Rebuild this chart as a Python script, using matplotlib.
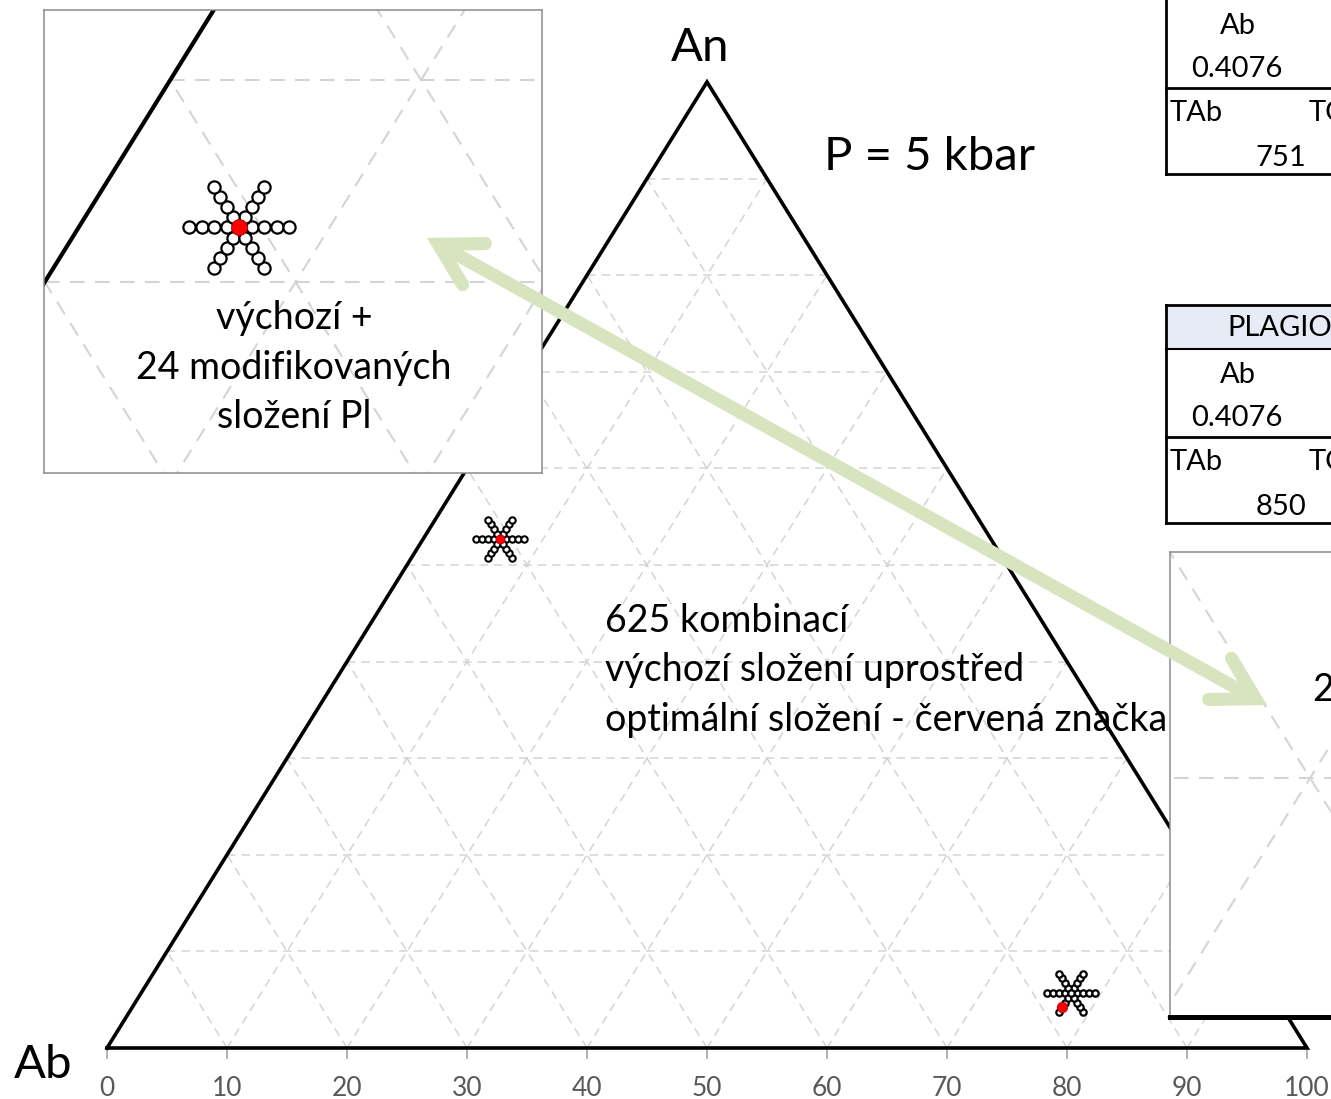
import numpy as np
import matplotlib.pyplot as plt

plt.rcParams['font.family'] = ['Lato', 'DejaVu Sans']

W, H = 1331, 1099

# výchozí složení plagioklasu (mol. %), dvě sady
vych_ab = [40.9, 16.8]
vych_an = [52.7, 5.7]
vych_or = [6.4, 77.5]

# optimální složení - červená značka
opt_ab = [40.9, 18.3]
opt_an = [52.7, 4.2]
opt_or = [6.4, 77.5]

# posuny modifikovaných složení (4 na každou stranu, 3 výměny -> 24 složení)
kroky = [-2.0, -1.5, -1.0, -0.5, 0.5, 1.0, 1.5, 2.0]
vymeny = [(-1, 0, 1), (-1, 1, 0), (0, 1, -1)]  # (dAb, dAn, dOr)

urovne_site = [10, 20, 30, 40, 50, 60, 70, 80, 90]
popisky_osy = [0, 10, 20, 30, 40, 50, 60, 70, 80, 90, 100]

tab1 = {'hlavicka': None, 'Ab': '0.4076', 'TAb': '751'}
tab2 = {'hlavicka': 'PLAGIOKLAS', 'Ab': '0.4076', 'TAb': '850'}

SEDA_SIT = '#D4D4D4'
ZELENA = '#D7E4BD'


def tern(ab, an, or_):
    # ternární -> kartézské (x po spodní ose, y = An)
    an = np.asarray(an, dtype=float)
    return np.asarray(or_, dtype=float) + an / 2, an


def px_box(x0, y0, x1, y1):
    return [x0 / W, 1 - y1 / H, (x1 - x0) / W, (y1 - y0) / H]


def kresli_sit(ax, lw, dash):
    for v in urovne_site:
        for ab, an, or_ in [([100 - v, 0], [v, v], [0, 100 - v]),
                            ([100 - v, 0], [0, 100 - v], [v, v]),
                            ([v, v], [0, 100 - v], [100 - v, 0])]:
            x, y = tern(ab, an, or_)
            ax.plot(x, y, color=SEDA_SIT, lw=lw, dashes=dash, zorder=1)


def kresli_trojuhelnik(ax, lw):
    x, y = tern([100, 0, 0, 100], [0, 100, 0, 0], [0, 0, 100, 0])
    ax.plot(x, y, color='black', lw=lw, zorder=2, solid_joinstyle='miter')


def kresli_hvezdu(ax, i, ms, mew, ms_red):
    ab, an, or_ = [], [], []
    for dab, dan, dor in vymeny:
        for k in kroky:
            ab.append(vych_ab[i] + k * dab)
            an.append(vych_an[i] + k * dan)
            or_.append(vych_or[i] + k * dor)
    x, y = tern(ab, an, or_)
    ax.plot(x, y, 'o', ls='none', mfc='white', mec='black', ms=ms, mew=mew, zorder=3)
    x0, y0 = tern(vych_ab[i], vych_an[i], vych_or[i])
    ax.plot(x0, y0, 'o', mfc='white', mec='black', ms=ms, mew=mew, zorder=3)
    xr, yr = tern(opt_ab[i], opt_an[i], opt_or[i])
    ax.plot(xr, yr, 'o', color='red', mec='#B00000', ms=ms_red, mew=0.6, zorder=4)


fig = plt.figure(figsize=(W / 100, H / 100), dpi=100)

# hlavní trojúhelník
ax = fig.add_axes([0, 0, 1, 1], zorder=0)
ax.set_xlim(-107 / 12, (W - 107) / 12)
ax.set_ylim(-51 / 9.66, 1048 / 9.66)
ax.axis('off')
kresli_sit(ax, 1.1, (5.5, 4))
kresli_trojuhelnik(ax, 2.6)
kresli_hvezdu(ax, 0, 4.6, 1.5, 6.5)
kresli_hvezdu(ax, 1, 4.6, 1.6, 7.5)
for t in popisky_osy:
    ax.plot([t, t], [0, -1.05], color='#A6A6A6', lw=1.2, zorder=1)
    ax.text(t, -4.15, str(t), ha='center', va='center', fontsize=19, color='#595959')

# výřez vlevo nahoře
ax1 = fig.add_axes(px_box(44, 10, 542, 473), zorder=2)
ax1.set_xlim(24.97, 44.82)
ax1.set_ylim(40.54, 63.47)
ax1.set_xticks([])
ax1.set_yticks([])
for s in ax1.spines.values():
    s.set_color('#8C8C8C')
    s.set_linewidth(1.1)
kresli_sit(ax1, 1.5, (7, 5))
kresli_trojuhelnik(ax1, 3.0)
kresli_hvezdu(ax1, 0, 8.8, 1.6, 11.5)
for y, t in zip([318, 368, 417], ['výchozí +', '24 modifikovaných', 'složení Pl']):
    ax1.text((294 - 44) / 498, 1 - (y - 10) / 463, t, transform=ax1.transAxes,
             ha='center', va='center', fontsize=27)

# výřez vpravo dole
ax2 = fig.add_axes(px_box(1170, 552, 1500, 1017), zorder=2)
ax2.set_xlim(70.28, 81.40)
ax2.set_ylim(0, 19.46)
ax2.set_xticks([])
ax2.set_yticks([])
for s in ax2.spines.values():
    s.set_color('#8C8C8C')
    s.set_linewidth(1.1)
ax2.spines['bottom'].set_color('black')
ax2.spines['bottom'].set_linewidth(3.6)
kresli_sit(ax2, 1.5, (7, 5))
kresli_trojuhelnik(ax2, 3.6)
kresli_hvezdu(ax2, 1, 9, 1.6, 13)
ax2.text((1313 - 1170) / 330, 1 - (690 - 552) / 465, '24 modifikovaných',
         transform=ax2.transAxes, ha='left', va='center', fontsize=27)

# horní vrstva v pixelech: popisky, tabulky, šipka
ov = fig.add_axes([0, 0, 1, 1], zorder=5)
ov.set_xlim(0, W)
ov.set_ylim(H, 0)
ov.axis('off')

ov.text(700, 48, 'An', ha='center', va='center', fontsize=34)
ov.text(43, 1065, 'Ab', ha='center', va='center', fontsize=34)
ov.text(824, 157, 'P = 5 kbar', ha='left', va='center', fontsize=34)
for y, t in zip([621, 670, 720], ['625 kombinací', 'výchozí složení uprostřed',
                                  'optimální složení - červená značka']):
    ov.text(605, y, t, ha='left', va='center', fontsize=27)

# tabulky (oříznuté na pravém okraji)
for tab, y0 in [(tab1, -44), (tab2, 305)]:
    if tab['hlavicka']:
        ov.fill_between([1166, W], y0, y0 + 44, color='#E6EBF5', lw=0)
        ov.plot([1166, W], [y0, y0], color='black', lw=2)
        ov.plot([1166, W], [y0 + 44, y0 + 44], color='black', lw=1.5)
        ov.text(1227, y0 + 23, tab['hlavicka'], ha='left', va='center', fontsize=21)
    ov.plot([1166, 1166], [max(y0, 0), y0 + 218], color='black', lw=2)
    ov.plot([1166, W], [y0 + 132, y0 + 132], color='black', lw=2)
    ov.plot([1166, W], [y0 + 218, y0 + 218], color='black', lw=2)
    ov.text(1238, y0 + 70, 'Ab', ha='center', va='center', fontsize=21)
    ov.text(1237, y0 + 113, tab['Ab'], ha='center', va='center', fontsize=21)
    ov.text(1170, y0 + 157, 'TAb', ha='left', va='center', fontsize=21)
    ov.text(1309, y0 + 157, 'TOr', ha='left', va='center', fontsize=21)
    ov.text(1281, y0 + 202, tab['TAb'], ha='center', va='center', fontsize=21)

# obousměrná zelená šipka
a = np.array([438.4, 244.3])
b = np.array([1255.6, 698.7])
u = (b - a) / np.hypot(*(b - a))
ov.plot([a[0], b[0]], [a[1], b[1]], color=ZELENA, lw=9.4, solid_capstyle='butt')
for vrchol, smer in [(a, u), (b, -u)]:
    pts = []
    for uhel in [30, -30]:
        r = np.radians(uhel)
        rot = np.array([smer[0] * np.cos(r) - smer[1] * np.sin(r),
                        smer[0] * np.sin(r) + smer[1] * np.cos(r)])
        pts.append(vrchol + 47 * rot)
    xs = [pts[0][0], vrchol[0], pts[1][0]]
    ys = [pts[0][1], vrchol[1], pts[1][1]]
    ov.plot(xs, ys, color=ZELENA, lw=9.4, solid_capstyle='round', solid_joinstyle='miter')

fig.savefig('out.png', dpi=100)
